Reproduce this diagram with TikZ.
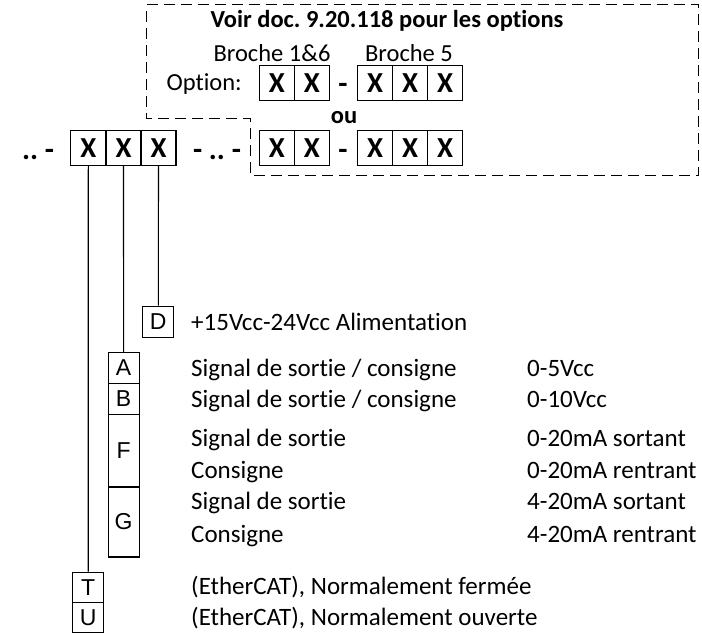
\documentclass[tikz,border=0pt]{standalone}
\usepackage{fontspec}
\setmainfont{Carlito}[Ligatures=CommonOff]
\newfontfamily\arialf{Liberation Sans}
\frenchspacing
\begin{document}
\begin{tikzpicture}[x=1pt,y=-1pt,
  cell/.style={draw,line width=1.2pt,minimum width=35pt,minimum height=35pt,inner sep=0pt,font=\fontsize{29}{29}\selectfont\bfseries},
  lbox/.style={draw,line width=1.1pt,minimum width=31pt,inner sep=0pt,font=\arialf\fontsize{23}{23}\selectfont},
  txt/.style={anchor=base west,inner sep=0pt,font=\fontsize{25}{25}\selectfont},
  sep/.style={anchor=base,inner sep=0pt,font=\fontsize{30}{30}\selectfont\bfseries},
  wire/.style={line width=1.1pt},
  dash box/.style={line width=1pt,dash pattern=on 11pt off 6pt}]
\useasboundingbox (0,0) rectangle (702,634);
% dashed options frame
\draw[dash box] (146.7,5) -- (698.3,5) -- (698.3,175.7) -- (250,175.7) -- (250,118) -- (146.7,118) -- cycle;
\node[anchor=base,inner sep=0pt,font=\fontsize{24.5}{24.5}\selectfont\bfseries] (title) at (387,28) {Voir doc. 9.20.118 pour les options};
\node[anchor=base,inner sep=0pt,font=\fontsize{24.5}{24.5}\selectfont] (b16) at (272,62) {Broche 1\&6};
\node[anchor=base,inner sep=0pt,font=\fontsize{24.5}{24.5}\selectfont] (b5) at (409,62) {Broche 5};
\node[anchor=base east,inner sep=0pt,font=\fontsize{24.5}{24.5}\selectfont] (opt) at (242,91) {Option:};
\node[anchor=base,inner sep=0pt,font=\fontsize{24.5}{24.5}\selectfont\bfseries] (ou) at (344,124) {ou};
% option row 1
\node[cell] (o1) at (276.8,83.3) {X};
\node[cell] (o2) at (311.8,83.3) {X};
\node[sep] (od1) at (343,94) {-};
\node[cell] (o3) at (375.2,83.3) {X};
\node[cell] (o4) at (410.2,83.3) {X};
\node[cell] (o5) at (445,83.3) {X};
% option row 2
\node[cell] (p1) at (276.8,148.2) {X};
\node[cell] (p2) at (311.8,148.2) {X};
\node[sep] (pd1) at (343,159) {-};
\node[cell] (p3) at (375.2,148.2) {X};
\node[cell] (p4) at (410.2,148.2) {X};
\node[cell] (p5) at (445,148.2) {X};
% main code
\node[sep] (lead) at (38,159) {.. -};
\node[cell] (c1) at (88.3,148) {X};
\node[cell] (c2) at (123.5,148) {X};
\node[cell] (c3) at (158.5,148) {X};
\node[sep] (mid) at (217,159) {- .. -};
% legend boxes
\node[lbox,minimum height=31.3pt] (D) at (158.3,321.7) {D};
\node[lbox,minimum height=31pt] (A) at (123.6,367.8) {A};
\node[lbox,minimum height=31pt] (B) at (123.6,398.8) {B};
\node[lbox,minimum height=72.7pt] (F) at (123.6,450.7) {F};
\node[lbox,minimum height=70pt] (G) at (123.6,522) {G};
\node[lbox,minimum height=30.3pt] (T) at (88.2,587.2) {T};
\node[lbox,minimum height=30.3pt] (U) at (88.2,617.5) {U};
% wires
\draw[wire] (c1.south) -- (T.north);
\draw[wire] (c2.south) -- (A.north);
\draw[wire] (c3.south) -- (D.north);
% texts
\node[txt] (tD) at (191,330) {+15Vcc-24Vcc Alimentation};
\node[txt] (tA) at (191,376) {Signal de sortie / consigne};
\node[txt] (vA) at (527,376) {0-5Vcc};
\node[txt] (tB) at (191,407) {Signal de sortie / consigne};
\node[txt] (vB) at (527,407) {0-10Vcc};
\node[txt] (tF1) at (191,446) {Signal de sortie};
\node[txt] (vF1) at (527,446) {0-20mA sortant};
\node[txt] (tF2) at (191,478) {Consigne};
\node[txt] (vF2) at (527,478) {0-20mA rentrant};
\node[txt] (tG1) at (191,509) {Signal de sortie};
\node[txt] (vG1) at (527,509) {4-20mA sortant};
\node[txt] (tG2) at (191,542) {Consigne};
\node[txt] (vG2) at (527,542) {4-20mA rentrant};
\node[txt] (tT) at (191,594) {(EtherCAT), Normalement fermée};
\node[txt] (tU) at (191,625) {(EtherCAT), Normalement ouverte};
\end{tikzpicture}
\end{document}
